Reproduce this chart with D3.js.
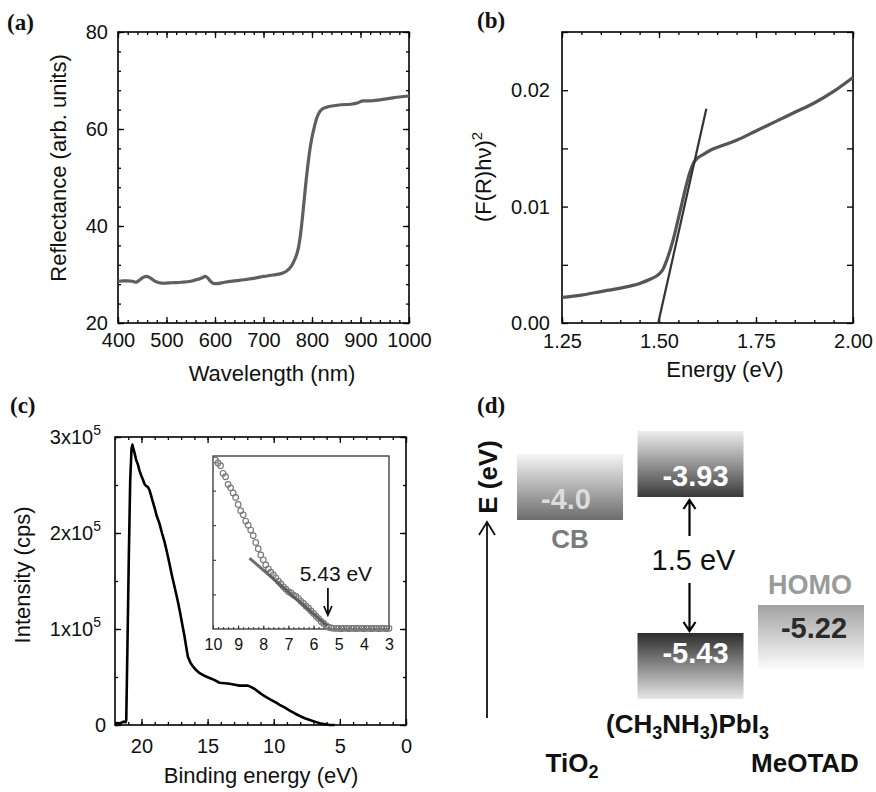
<!DOCTYPE html>
<html><head><meta charset="utf-8">
<script src="https://cdn.jsdelivr.net/npm/d3@7"></script>
<style>
body{margin:0;background:#fff}
svg{display:block}
</style>
</head><body>
<svg id="chart" width="876" height="792" font-family='"Liberation Sans",Arial,Helvetica,sans-serif'></svg>
<script>
// ---------------- DATA ----------------
// (a) reflectance spectrum
const wavelength = [400,410,420,430,437,445,452,458,463,468,475,485,495,510,530,550,560,568,575,580,585,590,596,602,620,650,680,700,720,740,750,758,764,768,772,776,780,784,788,792,796,800,805,810,815,820,830,845,860,880,895,905,920,940,960,980,1000];
const reflectance = [28.6,28.7,28.7,28.6,28.4,28.9,29.4,29.6,29.5,29.2,28.7,28.3,28.2,28.3,28.4,28.6,28.9,29.1,29.4,29.6,29.3,28.7,28.2,28.1,28.4,28.8,29.2,29.6,29.9,30.3,30.9,31.8,33.0,34.0,35.5,38.0,41.5,45.5,49.5,53.0,56.0,58.3,60.5,62.3,63.4,64.0,64.5,64.8,65.0,65.1,65.4,65.8,65.8,66.0,66.3,66.6,66.8];
const aXTicks = [400,500,600,700,800,900,1000];
const aYTicks = [20,40,60,80];

// (b) Kubelka-Munk plot
const energyB = [1.25,1.30,1.35,1.40,1.45,1.48,1.50,1.51,1.52,1.53,1.54,1.55,1.56,1.57,1.58,1.59,1.60,1.61,1.63,1.66,1.70,1.75,1.80,1.85,1.90,1.95,2.00];
const kmB = [0.0022,0.0024,0.0027,0.0030,0.0034,0.0038,0.0042,0.0046,0.0054,0.0064,0.0076,0.0090,0.0104,0.0118,0.0130,0.0138,0.0142,0.0144,0.0148,0.0152,0.0157,0.0165,0.0173,0.0181,0.0189,0.0199,0.0211];
const fitBEnergy = [1.498,1.622];
const fitBValue = [0.0,0.0184];
const bXTicks = [1.25,1.50,1.75,2.00];
const bYTicks = [0.00,0.01,0.02];

// (c) UPS spectrum (binding energy, counts per second)
const bindingE = [22.0,21.6,21.35,21.2,21.15,21.05,20.95,20.85,20.75,20.68,20.6,20.53,20.4,20.28,20.15,20.02,19.9,19.77,19.65,19.52,19.4,19.27,19.15,19.02,18.85,18.64,18.45,18.26,18.07,17.88,17.7,17.5,17.3,17.12,16.93,16.74,16.6,16.49,16.3,16.11,15.85,15.6,15.2,14.85,14.5,14.1,13.7,13.33,12.95,12.58,12.25,11.95,11.7,11.44,11.1,10.81,10.5,10.17,9.85,9.55,9.15,8.79,8.4,8.03,7.65,7.27,6.9,6.52,6.1,5.76,5.4];
const intensity = [2000,1800,3500,3000,5000,90000,180000,255000,288000,292000,287000,284000,276000,272000,265000,260000,256000,251000,249000,248000,245000,239000,233000,227000,218000,210000,200000,191000,180000,168000,156000,144000,132000,120000,106000,92000,80000,71000,65000,61000,57000,54000,51000,49000,47000,44000,43500,43000,42000,41000,41000,41000,39500,37500,34000,31000,28500,26000,23500,21000,18000,15000,12000,9400,7000,5200,3500,1800,800,0,0];
const cXTicks = [20,15,10,5,0];
const cYTicks = [0,100000,200000,300000];

// (c) inset: onset region
const insetE = [9.9,9.8,9.7,9.6,9.5,9.4,9.3,9.2,9.1,9.0,8.9,8.8,8.7,8.6,8.5,8.4,8.3,8.2,8.1,8.0,7.9,7.8,7.7,7.6,7.5,7.4,7.3,7.2,7.1,7.0,6.9,6.8,6.7,6.6,6.5,6.4,6.3,6.2,6.1,6.0,5.9,5.8,5.7,5.6,5.5,5.4,5.3,5.2,5.1,5.0,4.9,4.8,4.7,4.6,4.5,4.4,4.3,4.2,4.1,4.0,3.9,3.8,3.7,3.6,3.5,3.4,3.3,3.2,3.1,3.0];
const insetI = [4.88,4.80,4.72,4.50,4.40,4.18,4.08,3.93,3.80,3.60,3.42,3.30,3.12,3.00,2.86,2.70,2.50,2.32,2.14,2.00,1.85,1.74,1.64,1.56,1.48,1.38,1.30,1.22,1.15,1.08,1.04,0.98,0.94,0.88,0.80,0.74,0.66,0.60,0.52,0.45,0.37,0.30,0.22,0.16,0.10,0.05,0.03,0.02,0.02,0.02,0.01,0.02,0.02,0.01,0.02,0.02,0.01,0.02,0.02,0.01,0.02,0.02,0.01,0.02,0.02,0.01,0.02,0.02,0.01,0.02];
const insetFitE = [8.55,5.45];
const insetFitI = [2.05,0.08];
const insetTicks = [10,9,8,7,6,5,4,3];
const onsetValue = 5.43;

// (d) energy level diagram
const materials = ["TiO2","(CH3NH3)PbI3","MeOTAD"];
const levelMaterial = ["TiO2","(CH3NH3)PbI3","(CH3NH3)PbI3","MeOTAD"];
const levelValue = [-4.0,-3.93,-5.43,-5.22];
const levelLabel = ["-4.0","-3.93","-5.43","-5.22"];
const levelKind = ["CB","CB","VB","HOMO"];
const bandGap = "1.5 eV";

// ---------------- DRAWING ----------------
const svg = d3.select("#chart");
svg.append("rect").attr("width",876).attr("height",792).attr("fill","#fff");

function frameAxes(g, x, y, o) {
  const [xa, xb] = x.range(), [ya, yb] = y.range();
  const L = Math.min(xa,xb), R = Math.max(xa,xb), T = Math.min(ya,yb), B = Math.max(ya,yb);
  const style = sel => {
    sel.select(".domain").remove();
    sel.selectAll(".tick line").attr("stroke","#000").attr("stroke-width",1.3);
    sel.attr("font-family",null).attr("font-size",null);
    return sel;
  };
  const mk = (axisFn, scale, tr, vals, size, fmt, pad) => {
    const ax = axisFn(scale).tickValues(vals).tickSize(-size).tickPadding(pad || 3);
    ax.tickFormat(fmt || (() => ""));
    return style(g.append("g").attr("transform", tr).call(ax));
  };
  // minor ticks
  mk(d3.axisBottom, x, `translate(0,${B})`, o.xMinor, 3);
  mk(d3.axisTop, x, `translate(0,${T})`, o.xMinor, 3);
  mk(d3.axisLeft, y, `translate(${L},0)`, o.yMinor, 3);
  mk(d3.axisRight, y, `translate(${R},0)`, o.yMinor, 3);
  // major ticks
  const bx = mk(d3.axisBottom, x, `translate(0,${B})`, o.xMajor, 6, o.xFmt, o.xPad);
  mk(d3.axisTop, x, `translate(0,${T})`, o.xMajor, 6);
  const ly = mk(d3.axisLeft, y, `translate(${L},0)`, o.yMajor, 6, o.yFmt, o.yPad);
  mk(d3.axisRight, y, `translate(${R},0)`, o.yMajor, 6);
  bx.selectAll("text").attr("font-size", 20).attr("fill","#111");
  ly.selectAll("text").attr("font-size", 20).attr("fill","#111");
  g.append("rect").attr("x",L).attr("y",T).attr("width",R-L).attr("height",B-T)
    .attr("fill","none").attr("stroke","#000").attr("stroke-width",1.6);
  return {bx, ly};
}

function panelLabel(x, y, t) {
  svg.append("text").attr("x",x).attr("y",y).text(t)
    .attr("font-family",'"Liberation Serif","Times New Roman",serif')
    .attr("font-weight","bold").attr("font-size",23).attr("fill","#111");
}
function vTitle(x, y, t) {
  return svg.append("text").attr("transform",`translate(${x},${y}) rotate(-90)`)
    .attr("text-anchor","middle").attr("font-size",22).attr("fill","#111").text(t);
}
function hTitle(x, y, t) {
  return svg.append("text").attr("x",x).attr("y",y)
    .attr("text-anchor","middle").attr("font-size",22).attr("fill","#111").text(t);
}
const minorRange = (a,b,s) => d3.range(Math.round((b-a)/s)+1).map(i => +(a + i*s).toFixed(6));

// ---- Panel (a)
{
  const g = svg.append("g");
  const x = d3.scaleLinear().domain([400,1000]).range([118,409]);
  const y = d3.scaleLinear().domain([20,80]).range([323,32]);
  frameAxes(g, x, y, {xMajor:aXTicks, xMinor:minorRange(400,1000,20), yMajor:aYTicks, yMinor:minorRange(20,80,4),
    xFmt:d3.format("d"), yFmt:d3.format("d"), xPad:10, yPad:10});
  g.append("path").datum(d3.zip(wavelength, reflectance))
    .attr("d", d3.line().x(d=>x(d[0])).y(d=>y(d[1])).curve(d3.curveMonotoneX))
    .attr("fill","none").attr("stroke","#5f5f5f").attr("stroke-width",3.2).attr("stroke-linejoin","round");
  panelLabel(7, 30, "(a)");
  vTitle(66, 168, "Reflectance (arb. units)");
  hTitle(272, 381, "Wavelength (nm)");
}

// ---- Panel (b)
{
  const g = svg.append("g");
  const x = d3.scaleLinear().domain([1.25,2.0]).range([562,853]);
  const y = d3.scaleLinear().domain([0,0.025]).range([323,32]);
  frameAxes(g, x, y, {xMajor:bXTicks, xMinor:minorRange(1.25,2.0,0.05), yMajor:minorRange(0,0.025,0.005), yMinor:[],
    xFmt:d3.format(".2f"), yFmt:d => bYTicks.some(v => Math.abs(v-d)<1e-9) ? d3.format(".2f")(d) : "", xPad:11, yPad:12});
  g.append("path").datum(d3.zip(energyB, kmB))
    .attr("d", d3.line().x(d=>x(d[0])).y(d=>y(d[1])).curve(d3.curveMonotoneX))
    .attr("fill","none").attr("stroke","#555").attr("stroke-width",3.2).attr("stroke-linejoin","round");
  g.append("path").datum(d3.zip(fitBEnergy, fitBValue))
    .attr("d", d3.line().x(d=>x(d[0])).y(d=>y(d[1])))
    .attr("fill","none").attr("stroke","#333").attr("stroke-width",2.2);
  panelLabel(477, 28, "(b)");
  const t = vTitle(491, 177, "");
  t.append("tspan").text("(F(R)h\u03bd)");
  t.append("tspan").attr("dy",-9).attr("font-size",15).text("2");
  hTitle(725, 377, "Energy (eV)");
}

// ---- Panel (c)
{
  const g = svg.append("g");
  const x = d3.scaleLinear().domain([22,0]).range([115,406]);
  const y = d3.scaleLinear().domain([0,300000]).range([725,437]);
  frameAxes(g, x, y, {xMajor:cXTicks, xMinor:minorRange(0,22,1), yMajor:cYTicks, yMinor:minorRange(0,300000,50000),
    xFmt:d3.format("d"), yFmt:()=>"", xPad:14, yPad:10});
  cYTicks.forEach(v => {
    const t = g.append("text").attr("x",101).attr("y",y(v)+7).attr("text-anchor","end")
      .attr("font-size",20).attr("fill","#111");
    if (v === 0) { t.attr("x",106).text("0"); return; }
    t.append("tspan").text(`${v/100000}x10`);
    t.append("tspan").attr("dy",-9).attr("font-size",14).text("5");
  });
  g.append("path").datum(d3.zip(bindingE, intensity))
    .attr("d", d3.line().x(d=>x(d[0])).y(d=>y(d[1])))
    .attr("fill","none").attr("stroke","#000").attr("stroke-width",2.6).attr("stroke-linejoin","round");

  // inset
  const ix = d3.scaleLinear().domain([10,3]).range([213,389]);
  const iy = d3.scaleLinear().domain([0,5]).range([629,456]);
  const ig = g.append("g");
  ig.append("rect").attr("x",213).attr("y",456).attr("width",176).attr("height",173).attr("fill","#fff");
  const minorX = ig.append("g").attr("transform","translate(0,629)")
    .call(d3.axisBottom(ix).tickValues(minorRange(3,10,0.2)).tickSize(-2).tickFormat(""));
  minorX.select(".domain").remove();
  minorX.selectAll("line").attr("stroke","#333");
  const bX = ig.append("g").attr("transform","translate(0,629)")
    .call(d3.axisBottom(ix).tickValues(insetTicks).tickSize(-3.5).tickPadding(9.5).tickFormat(d3.format("d")));
  bX.select(".domain").remove();
  bX.attr("font-family",null).attr("font-size",null);
  bX.selectAll("text").attr("font-size",16).attr("fill","#111");
  bX.selectAll("line").attr("stroke","#222");
  const lY = ig.append("g").attr("transform","translate(213,0)")
    .call(d3.axisLeft(iy).tickValues([1,2,3,4]).tickSize(-3).tickFormat(""));
  lY.select(".domain").remove();
  lY.selectAll("line").attr("stroke","#222");
  ig.append("rect").attr("x",213).attr("y",456).attr("width",176).attr("height",173)
    .attr("fill","none").attr("stroke","#333").attr("stroke-width",1.3);
  ig.append("g").selectAll("circle").data(d3.zip(insetE, insetI)).join("circle")
    .attr("cx",d=>ix(d[0])).attr("cy",d=>iy(d[1])).attr("r",2.8)
    .attr("fill","none").attr("stroke","#7a7a7a").attr("stroke-width",1.2);
  ig.append("path").datum(d3.zip(insetFitE, insetFitI))
    .attr("d", d3.line().x(d=>ix(d[0])).y(d=>iy(d[1])))
    .attr("fill","none").attr("stroke","#555").attr("stroke-width",3).attr("opacity",0.85);
  const ax0 = ix(onsetValue);
  ig.append("path").attr("d",`M${ax0},588 V615 M${ax0-4},606 L${ax0},615 L${ax0+4},606`)
    .attr("fill","none").attr("stroke","#111").attr("stroke-width",1.8);
  ig.append("text").attr("x",ax0+8).attr("y",581).attr("text-anchor","middle")
    .attr("font-size",21).attr("fill","#111").text(`${onsetValue} eV`);

  panelLabel(10, 413, "(c)");
  vTitle(30, 575, "Intensity (cps)");
  hTitle(261, 783, "Binding energy (eV)");
}

// ---- Panel (d)
{
  const g = svg.append("g");
  const xb = d3.scaleBand().domain(materials).range([517,864]).paddingInner(0.12).paddingOuter(0);
  // schematic (non-linear) energy axis
  const e = d3.scaleLinear().domain([-5.43,-5.22,-4.0,-3.93]).range([633,605,520,497]);
  const boxH = 66;
  const defs = svg.append("defs");
  const grads = {
    "0": [["0%","#f6f6f6"],["100%","#6c6c6c"]],
    "1": [["0%","#eeeeee"],["100%","#3a3a3a"]],
    "2": [["0%","#2c2c2c"],["100%","#e6e6e6"]],
    "3": [["0%","#a2a2a2"],["100%","#ffffff"]]
  };
  Object.entries(grads).forEach(([k, stops]) => {
    const lg = defs.append("linearGradient").attr("id","grad"+k).attr("x1",0).attr("y1",0).attr("x2",0).attr("y2",1);
    stops.forEach(s => lg.append("stop").attr("offset",s[0]).attr("stop-color",s[1]));
  });
  const labelColor = ["#dcdcdc","#ffffff","#ffffff","#2a2a2a"];
  levelValue.forEach((v, i) => {
    const up = levelKind[i] === "CB";
    const y0 = up ? e(v) - boxH : e(v);
    g.append("rect").attr("x", xb(levelMaterial[i])).attr("y", y0)
      .attr("width", xb.bandwidth()).attr("height", boxH).attr("fill", `url(#grad${i})`);
    const cx = xb(levelMaterial[i]) + xb.bandwidth()/2;
    const ty = up ? e(v) - 11 : e(v) + (levelKind[i]==="VB" ? 30 : 33);
    g.append("text").attr("x", cx + (i===0 ? -4 : i===3 ? 3 : 5)).attr("y", ty).attr("text-anchor","middle")
      .attr("font-size",29).attr("font-weight","bold").attr("fill",labelColor[i]).text(levelLabel[i]);
  });
  g.append("text").attr("x", xb("TiO2")+xb.bandwidth()/2).attr("y", e(-4.0)+28).attr("text-anchor","middle")
    .attr("font-size",26).attr("font-weight","bold").attr("fill","#7a7a7a").text("CB");
  g.append("text").attr("x", xb("MeOTAD")+xb.bandwidth()/2 - 1).attr("y", e(-5.22)-11).attr("text-anchor","middle")
    .attr("font-size",27).attr("font-weight","bold").attr("fill","#9a9a9a").text("HOMO");
  const ax = xb("(CH3NH3)PbI3") + xb.bandwidth()/2 - 1;
  const top = e(-3.93) + 3, bot = e(-5.43) - 2;
  g.append("path").attr("d",`M${ax},${top+36} V${top} M${ax-6},${top+9} L${ax},${top} L${ax+6},${top+9}`)
    .attr("fill","none").attr("stroke","#000").attr("stroke-width",2.2);
  g.append("path").attr("d",`M${ax},${bot-48} V${bot} M${ax-6},${bot-9} L${ax},${bot} L${ax+6},${bot-9}`)
    .attr("fill","none").attr("stroke","#000").attr("stroke-width",2.2);
  g.append("text").attr("x", ax+4).attr("y", 570).attr("text-anchor","middle")
    .attr("font-size",29).attr("fill","#111").text(bandGap);
  g.append("path").attr("d","M487,718 V522 M479,535 L487,522 L495,535")
    .attr("fill","none").attr("stroke","#111").attr("stroke-width",1.8);
  g.append("text").attr("transform","translate(497,477) rotate(-90)").attr("text-anchor","middle")
    .attr("font-size",26).attr("font-weight","bold").attr("fill","#111").text("E (eV)");
  const pv = g.append("text").attr("x", xb("(CH3NH3)PbI3")+xb.bandwidth()/2 - 3).attr("y",733)
    .attr("text-anchor","middle").attr("font-size",26).attr("font-weight","bold").attr("fill","#111");
  [["(CH",0],["3",1],["NH",0],["3",1],[")PbI",0],["3",1]].forEach(([s,sub],i,arr) => {
    const prevSub = i>0 && arr[i-1][1];
    pv.append("tspan").attr("dy", sub ? 6 : (prevSub ? -6 : 0)).attr("font-size", sub ? 18 : 26).text(s);
  });
  const ti = g.append("text").attr("x", xb("TiO2")+xb.bandwidth()/2 + 2).attr("y",772)
    .attr("text-anchor","middle").attr("font-size",26).attr("font-weight","bold").attr("fill","#111");
  ti.append("tspan").text("TiO");
  ti.append("tspan").attr("dy",6).attr("font-size",18).text("2");
  g.append("text").attr("x", xb("MeOTAD")+xb.bandwidth()/2 - 6).attr("y",772)
    .attr("text-anchor","middle").attr("font-size",26).attr("font-weight","bold").attr("fill","#111").text("MeOTAD");
  panelLabel(477, 413, "(d)");
}
</script>
</body></html>
